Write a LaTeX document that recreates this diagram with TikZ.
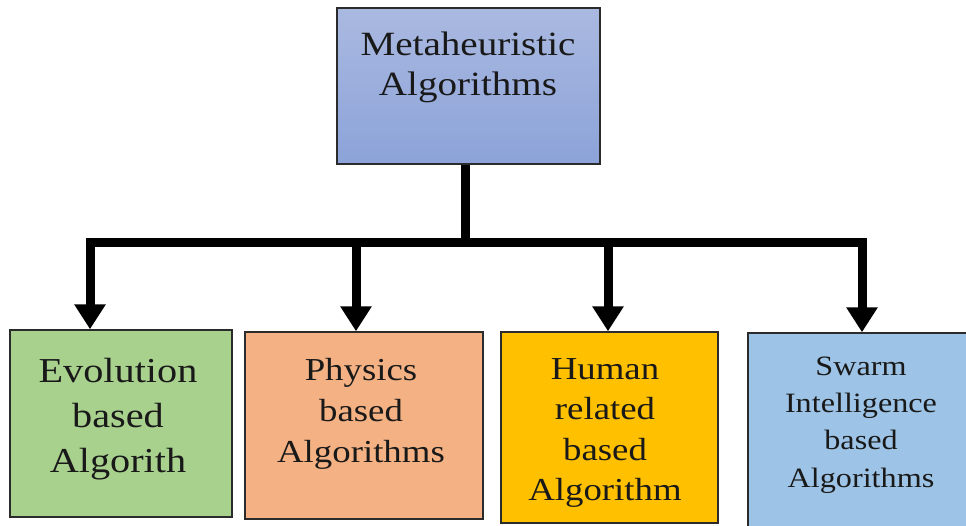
\documentclass[tikz,border=0pt]{standalone}
\usepackage{fontspec}
\setmainfont{Liberation Serif}[FakeStretch=1.15]
\usetikzlibrary{arrows.meta}
\definecolor{evocol}{HTML}{A9D18E}
\definecolor{phycol}{HTML}{F4B183}
\definecolor{humcol}{HTML}{FFC000}
\definecolor{swacol}{HTML}{9DC3E6}
\definecolor{topA}{HTML}{AAB9E0}
\definecolor{topB}{HTML}{8CA3D9}
\definecolor{edge}{HTML}{2B2B2B}
\begin{document}
\begin{tikzpicture}[x=1pt,y=-1pt,
  box/.style={draw=edge, line width=1.5pt, inner sep=0pt},
  lbl/.style={anchor=north, align=center, inner sep=0pt, text=black!90},
  conn/.style={line width=9pt, draw=black},
  arr/.style={line width=9pt, draw=black, -{Triangle[width=30pt,length=25pt]}}]
\clip (0,0) rectangle (966,525);
\fill[white] (0,0) rectangle (966,525);
% boxes
\node[box, top color=topA, bottom color=topB, minimum width=263pt, minimum height=156pt] (top) at (468.5,86) {};
\node[box, fill=evocol, minimum width=222pt, minimum height=187pt] (evo) at (121,423.5) {};
\node[box, fill=phycol, minimum width=238pt, minimum height=187pt] (phy) at (364,425.5) {};
\node[box, fill=humcol, minimum width=217pt, minimum height=191pt] (hum) at (609.5,427.5) {};
\node[box, fill=swacol, minimum width=232pt, minimum height=207pt] (swa) at (864,436.5) {};
% texts
\node[lbl, font={\fontsize{34}{40}\selectfont}] (toptxt) at (468,32) {Metaheuristic\\Algorithms};
\node[lbl, font={\fontsize{35}{45}\selectfont}] (evotxt) at (118,358) {Evolution\\based\\Algorith};
\node[lbl, font={\fontsize{32}{41}\selectfont}] (phytxt) at (361,358) {Physics\\based\\Algorithms};
\node[lbl, font={\fontsize{32}{40.5}\selectfont}] (humtxt) at (605,358) {Human\\related\\based\\Algorithm};
\node[lbl, font={\fontsize{28}{37.3}\selectfont}] (swatxt) at (861,356.5) {Swarm\\Intelligence\\based\\Algorithms};
% connectors
\coordinate (stem) at (465,242);
\coordinate (b1) at (90,242);
\coordinate (b2) at (356,242);
\coordinate (b3) at (608,242);
\coordinate (b4) at (862,242);
\draw[conn] (stem |- top.south) -- (stem);
\draw[conn, line cap=rect] (b1) -- (b4);
\draw[arr] (b1) -- (b1 |- evo.north);
\draw[arr] (b2) -- (b2 |- phy.north);
\draw[arr] (b3) -- (b3 |- hum.north);
\draw[arr] (b4) -- (b4 |- swa.north);
\end{tikzpicture}
\end{document}
